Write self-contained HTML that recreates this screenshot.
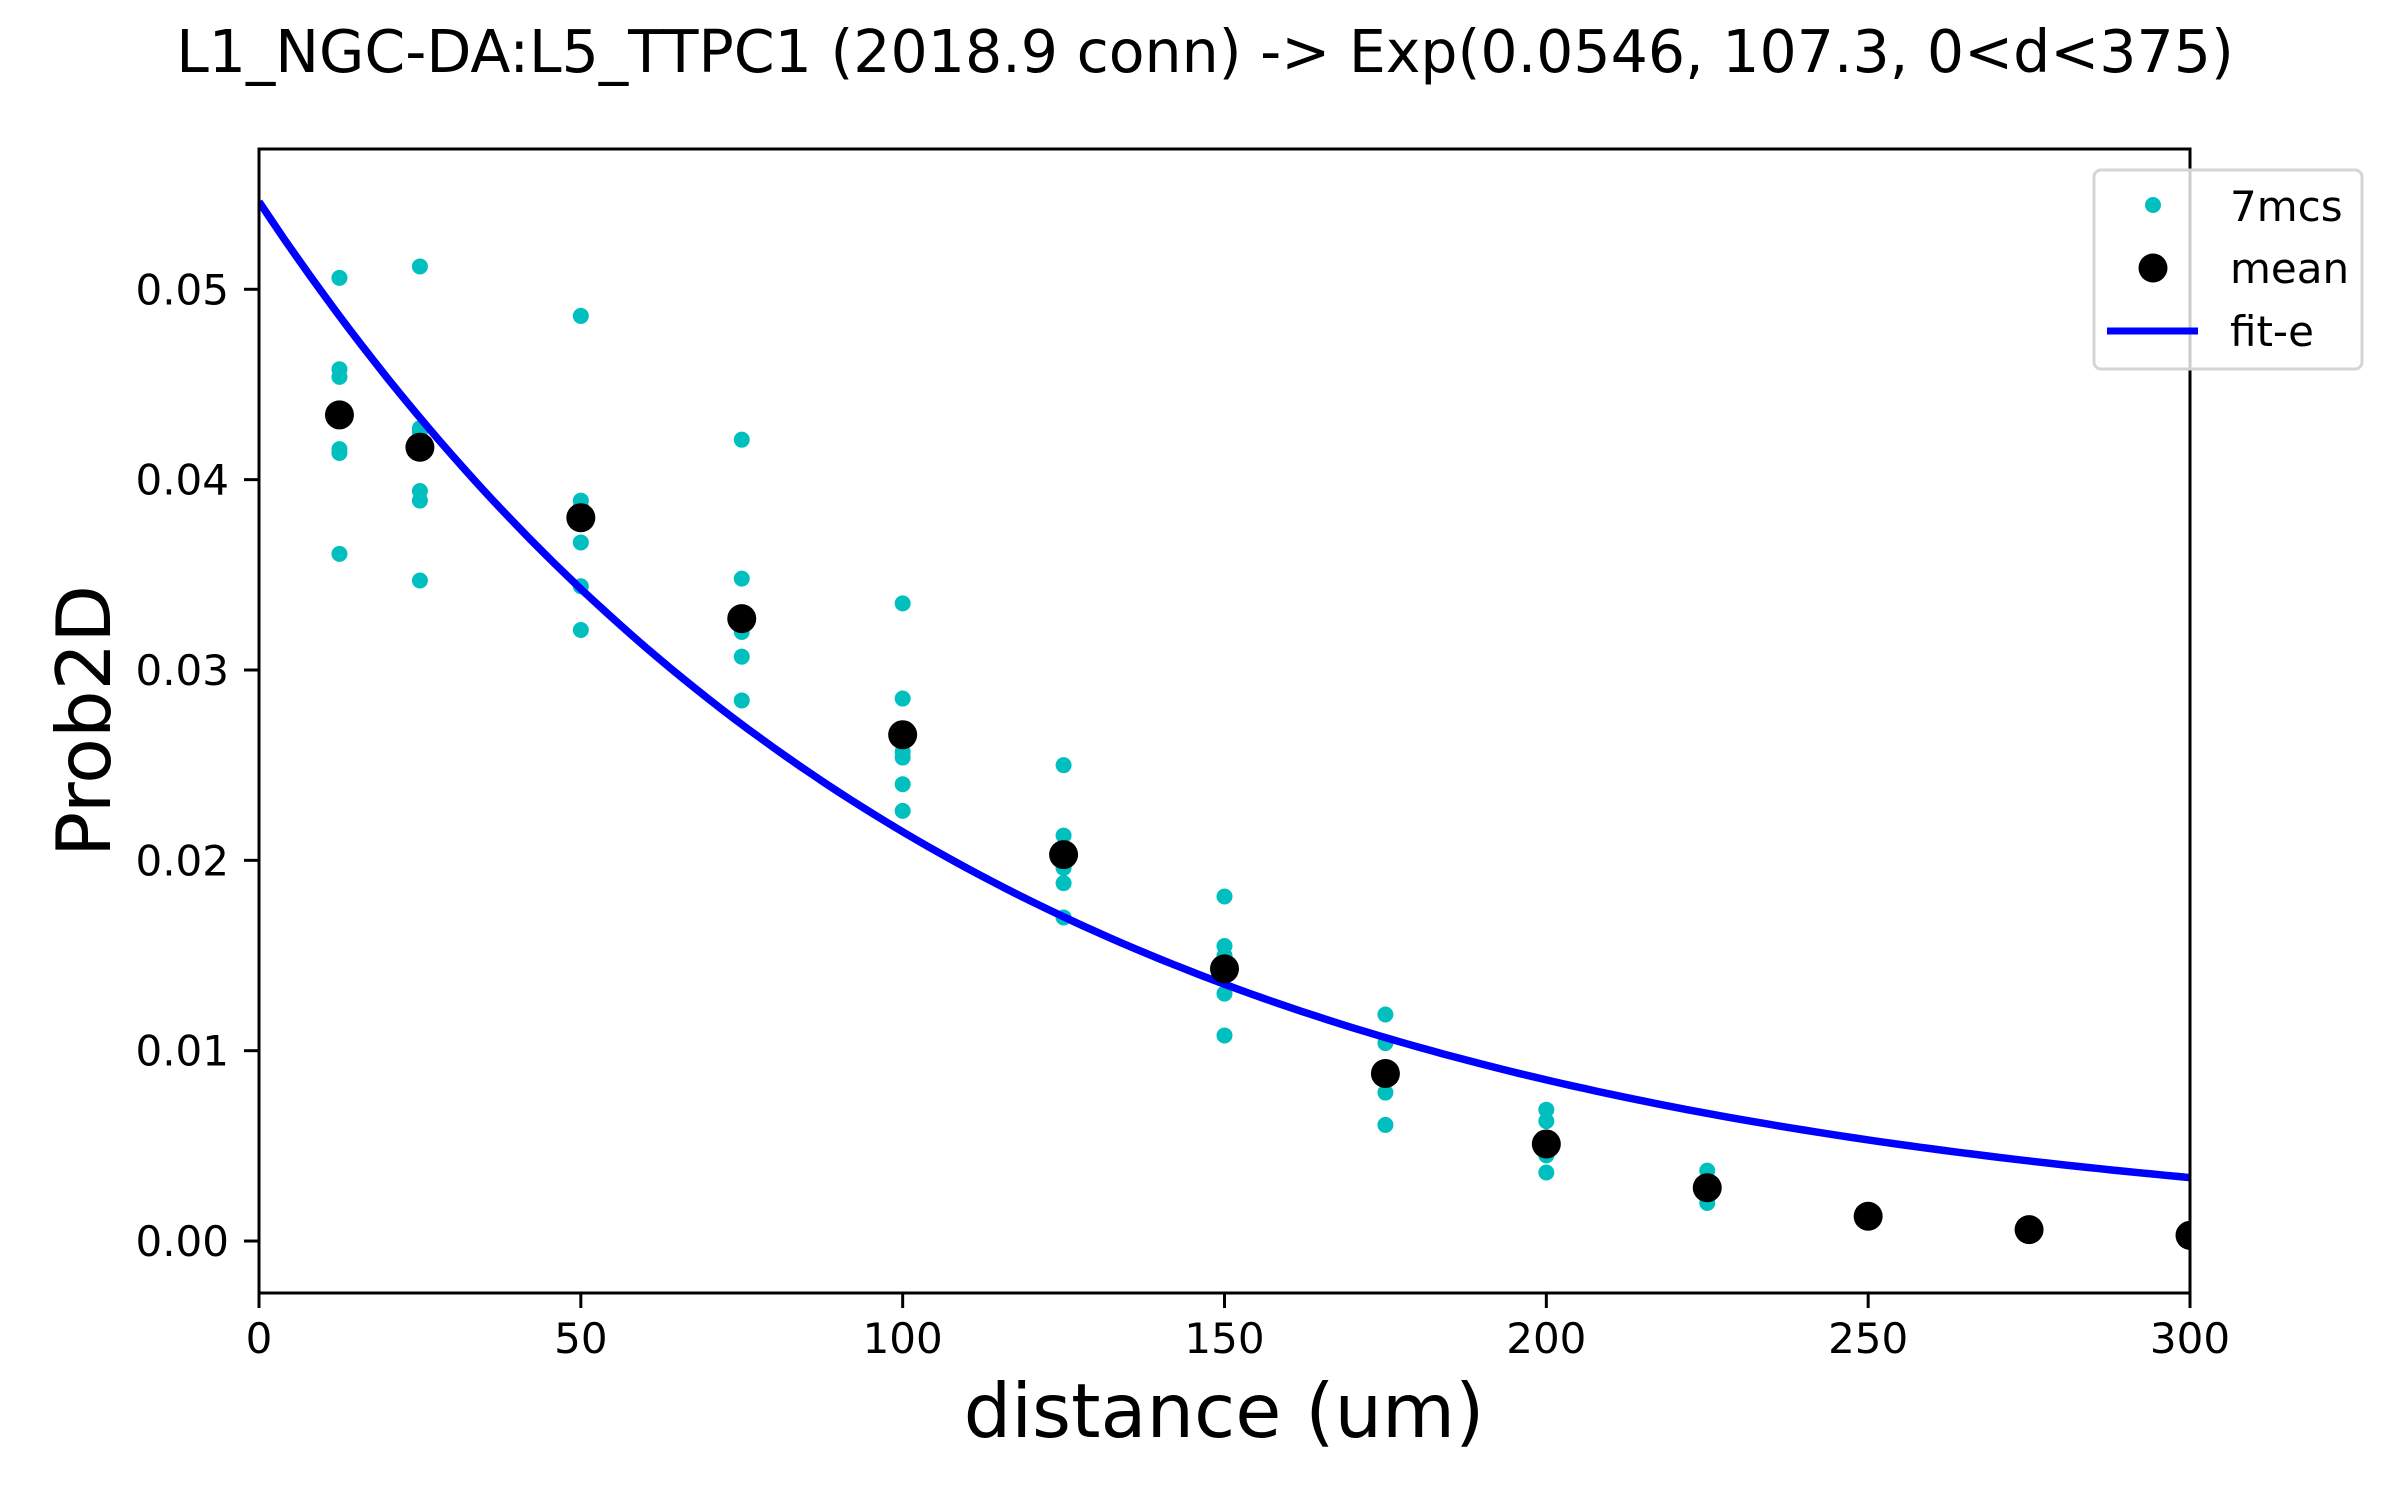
<!DOCTYPE html>
<html><head><meta charset="utf-8"><style>
html,body{margin:0;padding:0;background:#fff;}
svg{display:block;font-family:"DejaVu Sans","Liberation Sans",sans-serif;}
</style></head><body>
<svg id="chart" width="2400" height="1500" viewBox="0 0 2400 1500" xmlns="http://www.w3.org/2000/svg">
<rect width="2400" height="1500" fill="#fff"/>
<text x="1205" y="72" font-size="58.5" text-anchor="middle">L1_NGC-DA:L5_TTPC1 (2018.9 conn) -&gt; Exp(0.0546, 107.3, 0&lt;d&lt;375)</text>
<g id="plot"></g>
<text x="1224" y="1437" font-size="75" text-anchor="middle">distance (um)</text>
<text x="0" y="0" font-size="75" text-anchor="middle" transform="translate(110,721) rotate(-90)">Prob2D</text>
<g>
<rect x="2094" y="170" width="268" height="199" rx="7" fill="#fff" fill-opacity="0.8" stroke="#d4d4d4" stroke-width="3"/>
<circle cx="2153" cy="205" r="8" fill="#00bfbf"/>
<text x="2230" y="221" font-size="42">7mcs</text>
<circle cx="2153" cy="268" r="14.5" fill="#000"/>
<text x="2230" y="283" font-size="42">mean</text>
<line x1="2107" y1="331" x2="2198" y2="331" stroke="#0000ff" stroke-width="7"/>
<text x="2230" y="346" font-size="42">fit-e</text>
</g>
</svg>
<script>
const xCats = [12.5, 25, 50, 75, 100, 125, 150, 175, 200, 225, 250];
const mcsValues = [
  [0.0506, 0.0458, 0.0454, 0.0416, 0.0414, 0.0361],
  [0.0512, 0.0427, 0.0425, 0.0394, 0.0389, 0.0347],
  [0.0486, 0.0389, 0.0386, 0.0367, 0.0344, 0.0321],
  [0.0421, 0.0348, 0.0322, 0.0320, 0.0307, 0.0284],
  [0.0335, 0.0285, 0.0257, 0.0254, 0.0240, 0.0226],
  [0.0250, 0.0213, 0.0198, 0.0196, 0.0188, 0.0170],
  [0.0181, 0.0155, 0.0150, 0.0130, 0.0108],
  [0.0119, 0.0104, 0.0078, 0.0061],
  [0.0069, 0.0063, 0.0045, 0.0036],
  [0.0037, 0.0020],
  [0.0016, 0.0012]
];
const meanX = [12.5, 25, 50, 75, 100, 125, 150, 175, 200, 225, 250, 275, 300];
const meanValues = [0.0434, 0.0417, 0.0380, 0.0327, 0.0266, 0.0203, 0.0143, 0.0088, 0.0051, 0.0028, 0.0013, 0.0006, 0.0003];
const fitParams = [0.0546, 107.3];
const xTicks = [0, 50, 100, 150, 200, 250, 300];
const yTicks = [0, 0.01, 0.02, 0.03, 0.04, 0.05];
const yTickLabels = ["0.00", "0.01", "0.02", "0.03", "0.04", "0.05"];

const L = 259, R = 2190, T = 149, B = 1293;
const X0 = 0, X1 = 300, Y0 = -0.00273, Y1 = 0.05737;
function sx(v){ return L + (v - X0) / (X1 - X0) * (R - L); }
function sy(v){ return B - (v - Y0) / (Y1 - Y0) * (B - T); }

const NS = "http://www.w3.org/2000/svg";
const g = document.getElementById("plot");
function mk(tag, attrs, parent){
  const e = document.createElementNS(NS, tag);
  for (const k in attrs) e.setAttribute(k, attrs[k]);
  (parent || g).appendChild(e);
  return e;
}
const defs = mk("defs", {});
const cp = mk("clipPath", {id: "clip"}, defs);
mk("rect", {x: L, y: T, width: R - L, height: B - T}, cp);

xCats.forEach((x, i) => {
  mcsValues[i].forEach(v => {
    const c = mk("circle", {cx: sx(x), cy: sy(v), r: 8, fill: "#00bfbf"});
    
    
  });
});
let d = "";
for (let x = 0; x <= 375; x += 2) {
  d += (x === 0 ? "M" : "L") + sx(x).toFixed(1) + "," + sy(fitParams[0] * Math.exp(-x / fitParams[1])).toFixed(1);
}
const fl = mk("path", {d: d, fill: "none", stroke: "#0000ff", "stroke-width": 7.5, "clip-path": "url(#clip)"});


meanX.forEach((x, i) => {
  const c = mk("circle", {cx: sx(x), cy: sy(meanValues[i]), r: 14.5, fill: "#000", "clip-path": "url(#clip)"});
  
  
});
const fr = mk("rect", {x: L, y: T, width: R - L, height: B - T, fill: "none", stroke: "#000", "stroke-width": 3});


xTicks.forEach(v => {
  const t = mk("line", {x1: sx(v), y1: B, x2: sx(v), y2: B + 15, stroke: "#000", "stroke-width": 3});
  
  
  const tx = mk("text", {x: sx(v), y: B + 60, "font-size": 42, "text-anchor": "middle"});
  tx.textContent = String(v);
  
  
});
yTicks.forEach((v, i) => {
  const t = mk("line", {x1: L - 15, y1: sy(v), x2: L, y2: sy(v), stroke: "#000", "stroke-width": 3});
  
  
  const tx = mk("text", {x: L - 30, y: sy(v) + 15, "font-size": 42, "text-anchor": "end"});
  tx.textContent = yTickLabels[i];
  
  
});
</script>
</body></html>
